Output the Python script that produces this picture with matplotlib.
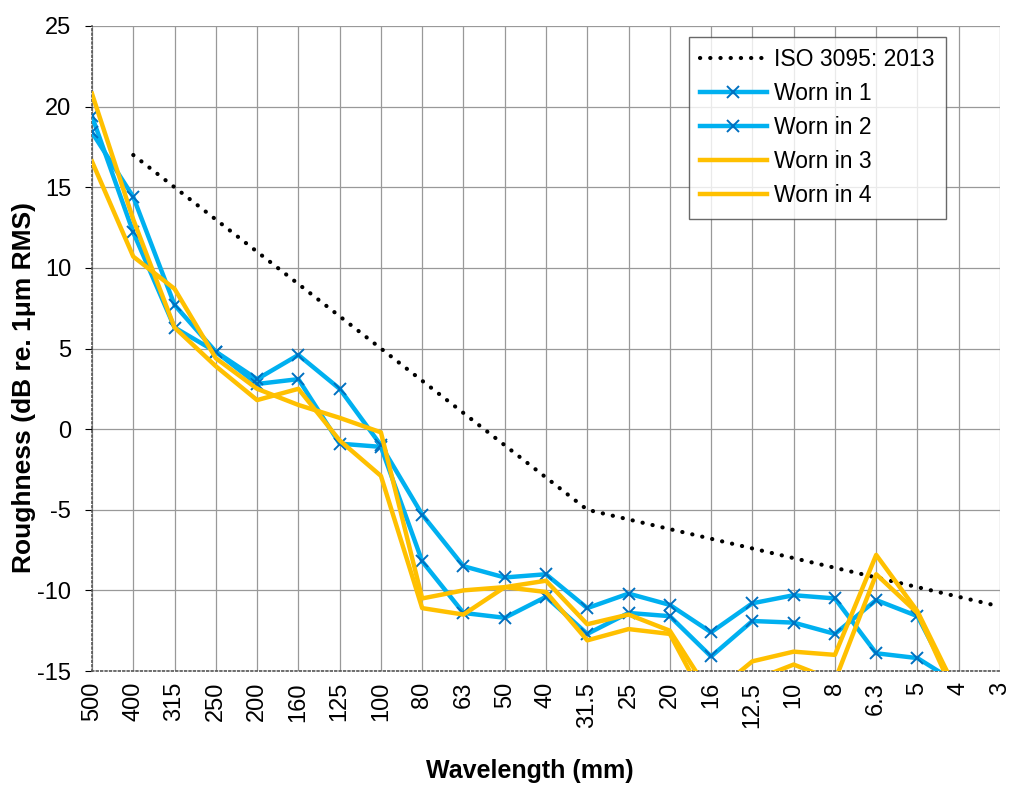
import numpy as np
import matplotlib
matplotlib.use("Agg")
import matplotlib.pyplot as plt

plt.rcParams["font.family"] = ["Liberation Sans", "DejaVu Sans"]
plt.rcParams["axes.unicode_minus"] = False

wavelengths = ["500", "400", "315", "250", "200", "160", "125", "100", "80", "63", "50", "40",
               "31.5", "25", "20", "16", "12.5", "10", "8", "6.3", "5", "4", "3"]

iso_3095 = [np.nan, 17.0, 15.0, 13.0, 11.0, 9.0, 7.0, 5.0, 3.0, 1.0, -1.0, -3.0,
            -5.0, -5.6, -6.2, -6.8, -7.4, -8.0, -8.6, -9.2, -9.8, -10.4, -11.0]

worn_1 = [19.4, 12.2, 6.3, 4.8, 2.8, 3.1, -0.9, -1.1, -8.2, -11.4, -11.7, -10.4,
          -12.7, -11.4, -11.6, -14.1, -11.9, -12.0, -12.7, -10.6, -11.6, -16.5, np.nan]
worn_2 = [18.4, 14.4, 7.7, 4.8, 3.1, 4.6, 2.5, -1.0, -5.3, -8.5, -9.2, -9.0,
          -11.1, -10.2, -10.9, -12.6, -10.8, -10.3, -10.5, -13.9, -14.2, -15.8, np.nan]
worn_3 = [20.8, 13.0, 6.3, 3.9, 1.8, 2.5, -0.7, -2.9, -11.1, -11.5, -9.8, -10.1,
          -13.1, -12.4, -12.7, -17.5, -15.6, -14.6, -15.6, -9.0, -11.4, -17.0, np.nan]
worn_4 = [16.6, 10.7, 8.7, 4.4, 2.5, 1.5, 0.7, -0.2, -10.5, -10.0, -9.8, -9.4,
          -12.1, -11.5, -12.5, -16.5, -14.4, -13.8, -14.0, -7.8, -11.3, -16.5, np.nan]

BLUE = "#00B0F0"
MARK = "#0070C0"
GOLD = "#FFC000"

fig = plt.figure(figsize=(10.25, 8.11), dpi=100)
ax = fig.add_axes([92 / 1025, 1 - 671 / 811, 908 / 1025, 645 / 811])

x = np.arange(len(wavelengths))

ax.plot(x, iso_3095, color="black", linewidth=3, linestyle=(0, (0.05, 2.4)),
        dash_capstyle="round", label="ISO 3095: 2013", zorder=3)
ax.plot(x, worn_1, color=BLUE, linewidth=3.2, marker="x", markersize=9,
        markeredgewidth=1.4, markeredgecolor=MARK, label="Worn in 1", zorder=3)
ax.plot(x, worn_2, color=BLUE, linewidth=3.2, marker="x", markersize=9,
        markeredgewidth=1.4, markeredgecolor=MARK, label="Worn in 2", zorder=3)
ax.plot(x, worn_3, color=GOLD, linewidth=3.2, label="Worn in 3", zorder=4)
ax.plot(x, worn_4, color=GOLD, linewidth=3.2, label="Worn in 4", zorder=4)

ax.set_xlim(0, len(wavelengths) - 1)
ax.set_ylim(-15, 25)
ax.set_xticks(x)
ax.set_xticklabels(wavelengths, rotation=90, fontsize=17)
ax.set_yticks(np.arange(-15, 26, 5))
ax.tick_params(axis="x", length=0, pad=8)
ax.tick_params(axis="y", labelsize=17, length=5, pad=10)

ax.grid(True, color="#999999", linewidth=0.9, linestyle="-")
ax.set_axisbelow(True)
for side in ["top", "right"]:
    ax.spines[side].set_visible(False)
for side in ["left", "bottom"]:
    ax.spines[side].set_color("#555555")
    ax.spines[side].set_linewidth(1.2)
    ax.spines[side].set_linestyle(":")

ax.set_xlabel("Wavelength (mm)", fontsize=18, fontweight="bold")
ax.xaxis.set_label_coords(0.482, -0.136)
ax.set_ylabel("Roughness (dB re. 1\u03bcm RMS)", fontsize=19, fontweight="bold")
ax.yaxis.set_label_coords(-0.062, 0.44)

leg = ax.legend(loc="upper right", bbox_to_anchor=(0.94, 0.983), fontsize=16.5,
                frameon=True, fancybox=False, handlelength=2.9, handletextpad=0.3,
                labelspacing=0.48, borderpad=0.5, borderaxespad=0)
leg.get_frame().set_edgecolor("#444444")
leg.get_frame().set_linewidth(1.0)

fig.savefig("out.png", dpi=100)
